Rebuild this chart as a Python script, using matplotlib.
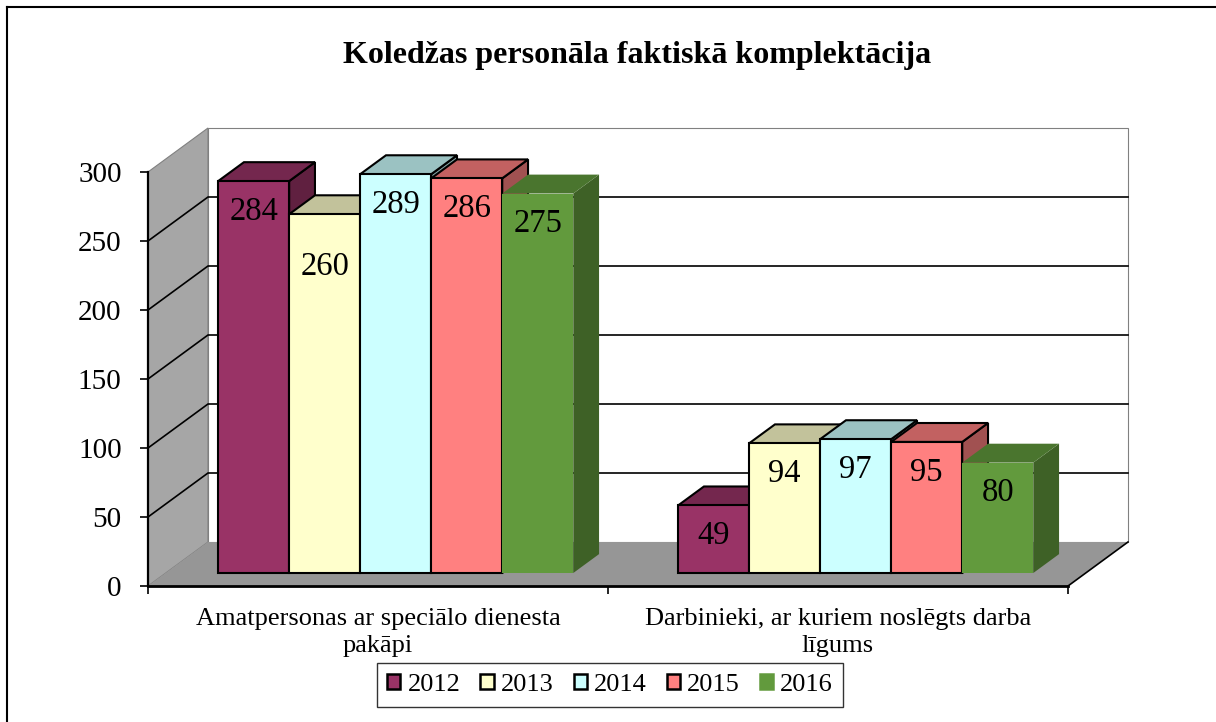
import matplotlib
matplotlib.use('Agg')
import matplotlib.pyplot as plt
from matplotlib.patches import Polygon, Rectangle
from matplotlib.lines import Line2D
import numpy as np

plt.rcParams['font.family'] = ['Liberation Serif', 'DejaVu Serif']

title = 'Koledžas personāla faktiskā komplektācija'
categories = ['Amatpersonas ar speciālo dienesta\npakāpi',
              'Darbinieki, ar kuriem noslēgts darba\nlīgums']
years = ['2012', '2013', '2014', '2015', '2016']
v2012 = [284, 49]
v2013 = [260, 94]
v2014 = [289, 97]
v2015 = [286, 95]
v2016 = [275, 80]
series = [v2012, v2013, v2014, v2015, v2016]
colors = ['#993366', '#ffffcc', '#ccffff', '#ff8080', '#629a3d']
edges = ['black', 'black', 'black', 'black', 'none']
yticks = [0, 50, 100, 150, 200, 250, 300]

W, H = 1216, 722
fig = plt.figure(figsize=(W / 100, H / 100), dpi=100)
ax = fig.add_axes([148 / W, (H - 586) / H, 920 / W, 414 / H])
ax.set_xlim(0, 2)
ax.set_ylim(0, 300)
ax.patch.set_visible(False)

# depth of the 3d box in data units
DX = 60 / 460.0
DY = 44 / 1.38
ymax = 300

# walls and floor
left_wall = Polygon([(0, 0), (DX, DY), (DX, ymax + DY), (0, ymax)],
                    closed=True, fc='#a6a6a6', ec='#808080', lw=0.8, zorder=0.5, clip_on=False)
back_wall = Polygon([(DX, DY), (2 + DX, DY), (2 + DX, ymax + DY), (DX, ymax + DY)],
                    closed=True, fc='white', ec='#808080', lw=0.8, zorder=0.4, clip_on=False)
floor = Polygon([(0, 0), (2, 0), (2 + DX, DY), (DX, DY)],
                closed=True, fc='#969696', ec='none', zorder=0.6, clip_on=False)
ax.add_patch(back_wall)
ax.add_patch(left_wall)
ax.add_patch(floor)
ax.plot([2, 2 + DX], [0, DY], color='black', lw=1.2, zorder=0.7, clip_on=False)

for v in yticks[1:-1]:
    ax.plot([0, DX, 2 + DX], [v, v + DY, v + DY], color='black', lw=1.2,
            zorder=1, clip_on=False)

# bars
z0, z1 = 0.295, 0.725
n = len(series)
group_w = 0.772
bw = group_w / n


def shade(c, f):
    r, g, b = matplotlib.colors.to_rgb(c)
    return (r * f, g * f, b * f)


label_drop = {(0, 1): 38}
k = 0
for gi in range(len(categories)):
    start = gi + (1 - group_w) / 2
    for si in range(n):
        h = series[si][gi]
        x0 = start + si * bw
        fx, fy = x0 + z0 * DX, z0 * DY
        bx, by = x0 + z1 * DX, z1 * DY
        zo = 3 + k * 0.1
        ec = edges[si]
        front = Polygon([(fx, fy), (fx + bw, fy), (fx + bw, fy + h), (fx, fy + h)],
                        fc=colors[si], ec=ec, lw=1.5, zorder=zo, clip_on=False)
        top = Polygon([(fx, fy + h), (fx + bw, fy + h), (bx + bw, by + h), (bx, by + h)],
                      fc=shade(colors[si], 0.76), ec=ec, lw=1.5, zorder=zo, clip_on=False)
        side = Polygon([(fx + bw, fy), (bx + bw, by), (bx + bw, by + h), (fx + bw, fy + h)],
                       fc=shade(colors[si], 0.63), ec=ec, lw=1.5, zorder=zo, clip_on=False)
        ax.add_patch(side)
        ax.add_patch(top)
        ax.add_patch(front)
        drop = label_drop.get((gi, si), 22)
        ax.text(fx + bw / 2, fy + h - drop, str(h), ha='center', va='center',
                fontsize=23.5, zorder=zo + 0.05, clip_on=False)
        k += 1

# axes
for s in ['top', 'right']:
    ax.spines[s].set_visible(False)
ax.spines['left'].set_linewidth(1.6)
ax.spines['bottom'].set_linewidth(2)
ax.spines['left'].set_zorder(10)
ax.spines['bottom'].set_zorder(10)
ax.set_yticks(yticks)
ax.set_yticklabels([str(t) for t in yticks])
ax.set_xticks([0, 1, 2])
ax.set_xticklabels([])
ax.tick_params(axis='y', direction='out', length=6, width=1.2, pad=13, labelsize=21)
ax.tick_params(axis='x', direction='out', length=6, width=1.2)

for gi, cat in enumerate(categories):
    ax.text(gi + 0.5, -34, cat, ha='center', va='center', fontsize=19,
            linespacing=1.3, clip_on=False)

fig.text(637 / W, 1 - 55 / H, title, ha='center', va='center',
         fontsize=23, fontweight='bold')

handles = [Rectangle((0, 0), 1, 1, fc=colors[i], ec=('black' if edges[i] != 'none' else colors[i]),
                     lw=1.8) for i in range(n)]
leg = fig.legend(handles, years, loc='center', bbox_to_anchor=(610 / W, 1 - 685 / H),
                 ncol=5, fontsize=19, frameon=True, fancybox=False, handlelength=0.5,
                 handleheight=0.5, handletextpad=0.27, columnspacing=0.76, borderpad=0.4)
leg.get_frame().set_edgecolor('black')
leg.get_frame().set_linewidth(1)

# outer border of the chart area
fig.add_artist(Line2D([7 / W, 1], [1 - 7 / H, 1 - 7 / H], color='black', lw=1.5))
fig.add_artist(Line2D([7 / W, 7 / W], [0, 1 - 7 / H], color='black', lw=1.5))

fig.savefig('out.png', dpi=100)
